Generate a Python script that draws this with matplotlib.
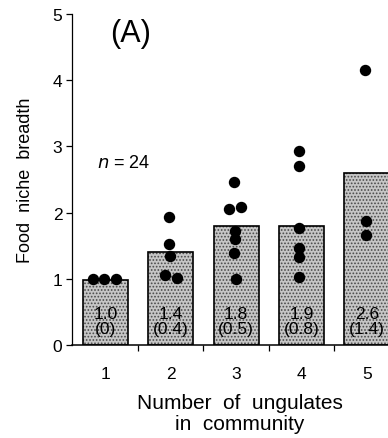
import matplotlib
matplotlib.use('Agg')
from matplotlib import pyplot as plt

plt.rcParams['font.family'] = ['Liberation Sans', 'DejaVu Sans']
plt.rcParams['hatch.linewidth'] = 0.8

# data
categories = [1, 2, 3, 4, 5]
bar_heights = [0.98, 1.4, 1.8, 1.8, 2.6]
means = ['1.0', '1.4', '1.8', '1.9', '2.6']
sds = ['(0)', '(0.4)', '(0.5)', '(0.8)', '(1.4)']

# individual species values per community size (x jitter, y)
points_x = [
    [-0.19, -0.02, 0.16],
    [-0.03, -0.03, -0.01, -0.09, 0.09],
    [-0.03, -0.11, 0.07, -0.02, -0.02, -0.03, 0.0],
    [-0.04, -0.04, -0.04, -0.04, -0.04, -0.04],
    [-0.03, -0.01, -0.01],
]
points_y = [
    [1.0, 1.0, 1.0],
    [1.93, 1.53, 1.34, 1.06, 1.01],
    [2.46, 2.05, 2.08, 1.72, 1.60, 1.39, 1.00],
    [2.93, 2.70, 1.77, 1.47, 1.33, 1.03],
    [4.15, 1.87, 1.66],
]


def main():
    fig = plt.figure(figsize=(3.88, 4.39), dpi=100)
    ax = fig.add_axes([0.1856, 0.2118, 0.8144, 0.754])

    ax.bar(categories, bar_heights, width=0.69, color='#c6c6c6',
           edgecolor='#4a4a4a', hatch='.....', linewidth=0, zorder=1)
    ax.bar(categories, bar_heights, width=0.69, fill=False,
           edgecolor='black', linewidth=1.2, zorder=2)

    for c, m, s in zip(categories, means, sds):
        ax.text(c, 0.36, m + '\n' + s, ha='center', va='center',
                fontsize=12.5, linespacing=1.0, zorder=3)

    for c, xs, ys in zip(categories, points_x, points_y):
        ax.plot([c + dx for dx in xs], ys, 'o', color='black',
                markersize=7.2, zorder=4, clip_on=False)

    ax.text(1.07, 4.71, '(A)', fontsize=22, ha='left', va='center')
    ax.text(0.87, 2.76, '$n$ = 24', fontsize=13, ha='left', va='center')

    ax.set_xlim(0.487, 5.326)
    ax.set_ylim(0, 5)
    ax.spines['top'].set_visible(False)
    ax.spines['right'].set_visible(False)
    ax.spines['left'].set_linewidth(0.9)
    ax.spines['bottom'].set_linewidth(1.1)

    ax.set_yticks([0, 1, 2, 3, 4, 5])
    ax.tick_params(axis='y', length=4, width=0.9, pad=3, labelsize=12.5)
    ax.set_xticks(categories)
    ax.set_xticks([1.5, 2.5, 3.5, 4.5], minor=True)
    ax.tick_params(axis='x', which='major', length=0, pad=15, labelsize=12.5)
    ax.tick_params(axis='x', which='minor', length=4, width=0.9)

    ax.set_ylabel('Food  niche  breadth', fontsize=13, labelpad=13)
    ax.set_xlabel('Number  of  ungulates\nin  community', fontsize=15,
                  linespacing=1.1, labelpad=9)
    ax.xaxis.label.set_x(0.532)

    fig.savefig('out.png', dpi=100)


if __name__ == '__main__':
    main()
